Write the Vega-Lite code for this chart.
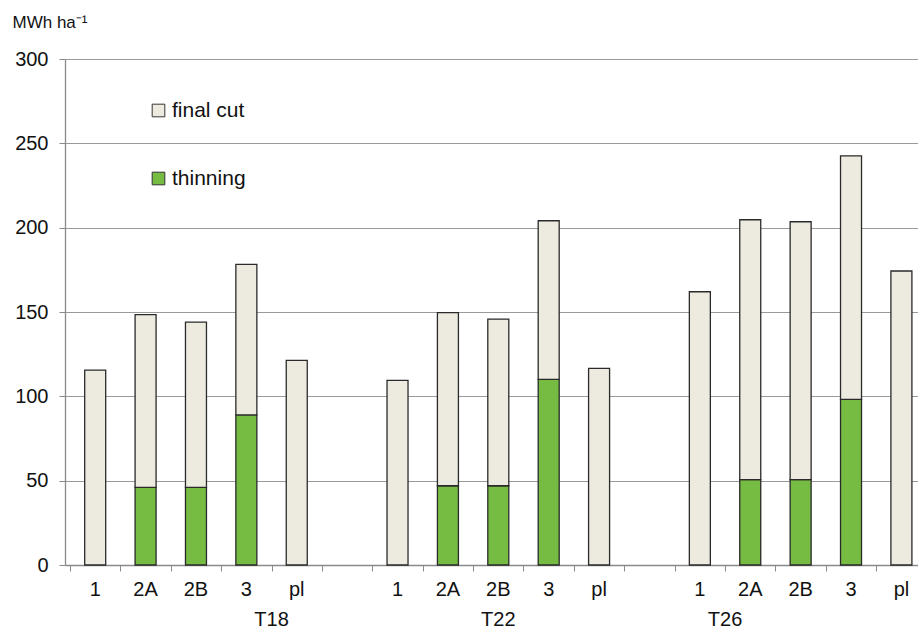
{
  "$schema": "https://vega.github.io/schema/vega-lite/v6.json",
  "width": 853,
  "height": 506,
  "autosize": {"type": "none"},
  "padding": {"left": 65, "top": 59, "right": 0, "bottom": 65},
  "background": "white",
  "config": {
    "view": {"stroke": null},
    "font": "Liberation Sans",
    "text": {"font": "Liberation Sans"}
  },
  "datasets": {
    "bars": [
      {"pos": 1, "group": "T18", "cat": "1", "type": "thinning", "value": 0},
      {"pos": 1, "group": "T18", "cat": "1", "type": "final cut", "value": 115.5},
      {"pos": 2, "group": "T18", "cat": "2A", "type": "thinning", "value": 46},
      {"pos": 2, "group": "T18", "cat": "2A", "type": "final cut", "value": 102.5},
      {"pos": 3, "group": "T18", "cat": "2B", "type": "thinning", "value": 46},
      {"pos": 3, "group": "T18", "cat": "2B", "type": "final cut", "value": 98},
      {"pos": 4, "group": "T18", "cat": "3", "type": "thinning", "value": 89},
      {"pos": 4, "group": "T18", "cat": "3", "type": "final cut", "value": 89.2},
      {"pos": 5, "group": "T18", "cat": "pl", "type": "thinning", "value": 0},
      {"pos": 5, "group": "T18", "cat": "pl", "type": "final cut", "value": 121.3},
      {"pos": 7, "group": "T22", "cat": "1", "type": "thinning", "value": 0},
      {"pos": 7, "group": "T22", "cat": "1", "type": "final cut", "value": 109.5},
      {"pos": 8, "group": "T22", "cat": "2A", "type": "thinning", "value": 47},
      {"pos": 8, "group": "T22", "cat": "2A", "type": "final cut", "value": 102.6},
      {"pos": 9, "group": "T22", "cat": "2B", "type": "thinning", "value": 47},
      {"pos": 9, "group": "T22", "cat": "2B", "type": "final cut", "value": 98.8},
      {"pos": 10, "group": "T22", "cat": "3", "type": "thinning", "value": 110.1},
      {"pos": 10, "group": "T22", "cat": "3", "type": "final cut", "value": 94},
      {"pos": 11, "group": "T22", "cat": "pl", "type": "thinning", "value": 0},
      {"pos": 11, "group": "T22", "cat": "pl", "type": "final cut", "value": 116.6},
      {"pos": 13, "group": "T26", "cat": "1", "type": "thinning", "value": 0},
      {"pos": 13, "group": "T26", "cat": "1", "type": "final cut", "value": 162},
      {"pos": 14, "group": "T26", "cat": "2A", "type": "thinning", "value": 50.6},
      {"pos": 14, "group": "T26", "cat": "2A", "type": "final cut", "value": 154.1},
      {"pos": 15, "group": "T26", "cat": "2B", "type": "thinning", "value": 50.6},
      {"pos": 15, "group": "T26", "cat": "2B", "type": "final cut", "value": 152.9},
      {"pos": 16, "group": "T26", "cat": "3", "type": "thinning", "value": 98.2},
      {"pos": 16, "group": "T26", "cat": "3", "type": "final cut", "value": 144.4},
      {"pos": 17, "group": "T26", "cat": "pl", "type": "thinning", "value": 0},
      {"pos": 17, "group": "T26", "cat": "pl", "type": "final cut", "value": 174.3}
    ],
    "groups": [
      {"pos": 4.5, "group": "T18"},
      {"pos": 9, "group": "T22"},
      {"pos": 13.5, "group": "T26"}
    ]
  },
  "layer": [
    {
      "data": {"name": "bars"},
      "transform": [{"filter": "datum.value > 0"}],
      "mark": {"type": "bar", "width": 21, "stroke": "#2a2a2a", "strokeWidth": 1.3},
      "encoding": {
        "x": {
          "field": "pos",
          "type": "quantitative",
          "scale": {"domain": [0.5, 17.23], "nice": false, "zero": false},
          "axis": {
            "values": [0.5, 1.5, 2.5, 3.5, 4.5, 5.5, 6.5, 7.5, 8.5, 9.5, 10.5, 11.5, 12.5, 13.5, 14.5, 15.5, 16.5],
            "labels": false,
            "grid": false,
            "title": null,
            "tickSize": 6,
            "tickColor": "#8a8a8a",
            "domainColor": "#8a8a8a",
            "domainWidth": 1.3,
            "tickWidth": 1
          }
        },
        "y": {
          "field": "value",
          "type": "quantitative",
          "stack": "zero",
          "scale": {"domain": [0, 300], "nice": false},
          "axis": {
            "values": [0, 50, 100, 150, 200, 250, 300],
            "title": "MWh ha⁻¹",
            "titleAngle": 0,
            "titleAlign": "left",
            "titleBaseline": "alphabetic",
            "titleX": -53,
            "titleY": -32,
            "titleFontSize": 17,
            "titleFontWeight": "normal",
            "titleColor": "#111",
            "labelFontSize": 20,
            "labelColor": "#111",
            "labelPadding": 11,
            "tickSize": 6,
            "tickColor": "#8a8a8a",
            "domainColor": "#8a8a8a",
            "domainWidth": 1.3,
            "gridColor": "#9a9a9a",
            "gridWidth": 1.2
          }
        },
        "color": {
          "field": "type",
          "type": "nominal",
          "scale": {"domain": ["final cut", "thinning"], "range": ["#EDEBE0", "#76BC43"]},
          "legend": {
            "title": null,
            "orient": "none",
            "legendX": 83,
            "legendY": 41,
            "symbolType": "square",
            "symbolSize": 160,
            "symbolStrokeColor": "#333",
            "symbolStrokeWidth": 1,
            "labelFontSize": 21,
            "labelColor": "#111",
            "labelOffset": 3,
            "rowPadding": 46
          }
        },
        "order": {"field": "type", "sort": "descending"}
      }
    },
    {
      "data": {"name": "bars"},
      "transform": [{"filter": "datum.type === 'final cut'"}],
      "mark": {"type": "text", "fontSize": 20, "color": "#111", "baseline": "middle", "dy": 25},
      "encoding": {
        "x": {"field": "pos", "type": "quantitative"},
        "y": {"datum": 0},
        "text": {"field": "cat"}
      }
    },
    {
      "data": {"name": "groups"},
      "mark": {"type": "text", "fontSize": 20, "color": "#111", "baseline": "middle", "dy": 55},
      "encoding": {
        "x": {"field": "pos", "type": "quantitative"},
        "y": {"datum": 0},
        "text": {"field": "group"}
      }
    }
  ]
}
